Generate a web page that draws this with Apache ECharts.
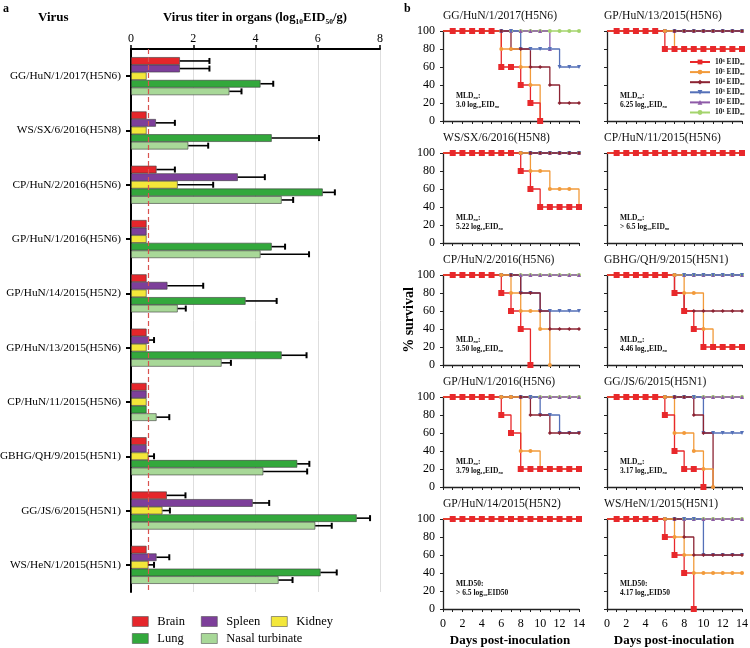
<!DOCTYPE html>
<html>
<head>
<meta charset="utf-8">
<script src="https://cdn.jsdelivr.net/npm/echarts@6/dist/echarts.min.js"></script>
<style>
  html, body { margin: 0; padding: 0; background: #fff; }
  #chart { width: 750px; height: 648px; }
</style>
</head>
<body>
<div id="chart"></div>
<script>
// ---- panel a: virus titers ----
var viruses = ['GG/HuN/1/2017(H5N6)', 'WS/SX/6/2016(H5N8)', 'CP/HuN/2/2016(H5N6)', 'GP/HuN/1/2016(H5N6)',
  'GP/HuN/14/2015(H5N2)', 'GP/HuN/13/2015(H5N6)', 'CP/HuN/11/2015(H5N6)', 'GBHG/QH/9/2015(H5N1)',
  'GG/JS/6/2015(H5N1)', 'WS/HeN/1/2015(H5N1)'];
var organs = ['Brain', 'Spleen', 'Kidney', 'Lung', 'Nasal turbinate'];
var brain      = [1.57, 0.50, 0.82, 0.50, 0.50, 0.50, 0.50, 0.50, 1.15, 0.50];
var brainErr   = [2.52, null, 1.41, null, null, null, null, null, 1.75, null];
var spleen     = [1.57, 0.80, 3.43, 0.50, 1.17, 0.58, 0.50, 0.50, 3.91, 0.82];
var spleenErr  = [2.52, 1.41, 4.30, null, 2.32, 0.74, null, null, 4.44, 1.23];
var kidney     = [0.50, 0.50, 1.50, 0.50, 0.50, 0.50, 0.50, 0.56, 1.01, 0.56];
var kidneyErr  = [null, null, 2.64, null, null, null, null, 0.74, 1.25, 0.74];
var lung       = [4.16, 4.52, 6.16, 4.52, 3.68, 4.84, 0.50, 5.34, 7.25, 6.09];
var lungErr    = [4.57, 6.04, 6.55, 4.95, 4.68, 5.64, null, 5.73, 7.68, 6.61];
var nasal      = [3.16, 1.84, 4.84, 4.16, 1.50, 2.91, 0.82, 4.25, 5.92, 4.74];
var nasalErr   = [3.55, 2.48, 5.21, 5.72, 1.76, 3.21, 1.23, 5.66, 6.45, 5.19];
var detectionLimit = 0.55;
var titerTicks = [0, 8, 2];

// ---- panel b: survival (days 0..14), doses 10^6 .. 10^1 ----
var doseNames = ['10⁶ EID₅₀', '10⁵ EID₅₀', '10⁴ EID₅₀', '10³ EID₅₀', '10² EID₅₀', '10¹ EID₅₀'];
var panelTitles = ['GG/HuN/1/2017(H5N6)', 'GP/HuN/13/2015(H5N6)', 'WS/SX/6/2016(H5N8)', 'CP/HuN/11/2015(H5N6)',
  'CP/HuN/2/2016(H5N6)', 'GBHG/QH/9/2015(H5N1)', 'GP/HuN/1/2016(H5N6)', 'GG/JS/6/2015(H5N1)',
  'GP/HuN/14/2015(H5N2)', 'WS/HeN/1/2015(H5N1)'];
var mldText = [
  ['MLD₅₀:', '3.0 log₁₀EID₅₀'], ['MLD₅₀:', '6.25 log₁₀EID₅₀'], ['MLD₅₀:', '5.22 log₁₀EID₅₀'],
  ['MLD₅₀:', '> 6.5 log₁₀EID₅₀'], ['MLD₅₀:', '3.50 log₁₀EID₅₀'], ['MLD₅₀:', '4.46 log₁₀EID₅₀'],
  ['MLD₅₀:', '3.79 log₁₀EID₅₀'], ['MLD₅₀:', '3.17 log₁₀EID₅₀'], ['MLD50:', '> 6.5 log₁₀EID50'],
  ['MLD50:', '4.17 log₁₀EID50']
];
var all100 = [100, 100, 100, 100, 100, 100, 100, 100, 100, 100, 100, 100, 100, 100, 100];

var svGG_HuN_1_2017 = [
  [100, 100, 100, 100, 100, 100, 60, 60, 40, 20, 0],
  [100, 100, 100, 100, 100, 100, 80, 80, 60, 40, 0],
  [100, 100, 100, 100, 100, 100, 100, 80, 80, 60, 60, 40, 20, 20, 20],
  [100, 100, 100, 100, 100, 100, 100, 100, 80, 80, 80, 80, 60, 60, 60],
  [100, 100, 100, 100, 100, 100, 100, 100, 100, 100, 100, 80],
  all100
];
var svGP_HuN_13_2015 = [
  [100, 100, 100, 100, 100, 100, 80, 80, 80, 80, 80, 80, 80, 80, 80],
  [100, 100, 100, 100, 100, 100, 100, 80, 80, 80, 80, 80, 80, 80, 80],
  all100, all100, all100, all100
];
var svWS_SX_6_2016 = [
  [100, 100, 100, 100, 100, 100, 100, 100, 80, 60, 40, 40, 40, 40, 40],
  [100, 100, 100, 100, 100, 100, 100, 100, 100, 80, 80, 60, 60, 60, 40],
  all100, all100, all100, all100
];
var svCP_HuN_11_2015 = [all100, all100, all100, all100, all100, all100];
var svCP_HuN_2_2016 = [
  [100, 100, 100, 100, 100, 100, 80, 60, 40, 0],
  [100, 100, 100, 100, 100, 100, 100, 80, 60, 60, 40, 0],
  [100, 100, 100, 100, 100, 100, 100, 100, 80, 80, 60, 40, 40, 40, 40],
  [100, 100, 100, 100, 100, 100, 100, 100, 80, 80, 60, 60, 60, 60, 60],
  all100, all100
];
var svGBHG_QH_9_2015 = [
  [100, 100, 100, 100, 100, 100, 100, 80, 60, 40, 20, 20, 20, 20, 20],
  [100, 100, 100, 100, 100, 100, 100, 100, 80, 80, 40, 20, 20, 20, 20],
  [100, 100, 100, 100, 100, 100, 100, 80, 60, 60, 60, 60, 60, 60, 60],
  all100, all100, all100
];
var svGP_HuN_1_2016 = [
  [100, 100, 100, 100, 100, 100, 80, 60, 20, 20, 20, 20, 20, 20, 20],
  [100, 100, 100, 100, 100, 100, 100, 100, 40, 40, 20, 20, 20, 20, 20],
  [100, 100, 100, 100, 100, 100, 100, 100, 100, 80, 80, 60, 60, 60, 60],
  [100, 100, 100, 100, 100, 100, 100, 100, 100, 100, 80, 80, 60, 60, 60],
  all100, all100
];
var svGG_JS_6_2015 = [
  [100, 100, 100, 100, 100, 100, 80, 40, 20, 20, 0],
  [100, 100, 100, 100, 100, 100, 100, 60, 60, 40, 20, 0],
  [100, 100, 100, 100, 100, 100, 100, 100, 100, 80, 60, 0],
  [100, 100, 100, 100, 100, 100, 100, 100, 100, 100, 60, 60, 60, 60, 60],
  all100, all100
];
var svGP_HuN_14_2015 = [all100, all100, all100, all100, all100, all100];
var svWS_HeN_1_2015 = [
  [100, 100, 100, 100, 100, 100, 80, 60, 40, 0],
  [100, 100, 100, 100, 100, 100, 100, 80, 60, 40, 40, 40, 40, 40, 40],
  [100, 100, 100, 100, 100, 100, 100, 100, 80, 60, 60, 60, 60, 60, 60],
  [100, 100, 100, 100, 100, 100, 100, 100, 100, 100, 60, 60, 60, 60, 60],
  all100, all100
];
var survival = [svGG_HuN_1_2017, svGP_HuN_13_2015, svWS_SX_6_2016, svCP_HuN_11_2015, svCP_HuN_2_2016,
  svGBHG_QH_9_2015, svGP_HuN_1_2016, svGG_JS_6_2015, svGP_HuN_14_2015, svWS_HeN_1_2015];

// ---- styling ----
var SERIF = '"Liberation Serif", "Times New Roman", serif';
var organColors = ['#e5262b', '#7d3f9a', '#f3e73a', '#33a83c', '#a8d898'];
var doseColors = ['#e8282b', '#f29a3a', '#8c2433', '#5470b8', '#8e5aa8', '#a4d46c'];
var doseSymbols = ['rect', 'circle', 'diamond', 'triangle', 'triangle', 'circle'];
var doseRotate = [0, 0, 0, 180, 0, 0];
var doseSizes = [6, 4, 4, 4, 4, 4];
var BAR_W = 7.6;

var chart = echarts.init(document.getElementById('chart'));

var grids = [{ left: 131, top: 49, width: 249, height: 543, containLabel: false, outerBoundsMode: 'none' }];
var xAxes = [{
  gridIndex: 0, type: 'value', position: 'top', min: titerTicks[0], max: titerTicks[1], interval: titerTicks[2],
  axisLine: { show: true, lineStyle: { color: '#000', width: 2 } },
  axisTick: { show: true, length: 4, lineStyle: { color: '#000', width: 1.5 } },
  axisLabel: { color: '#000', fontSize: 12, fontFamily: SERIF, margin: 4 },
  splitLine: { show: true, lineStyle: { color: '#dedede' } }
}];
var yAxes = [{
  gridIndex: 0, type: 'category', inverse: true, data: viruses,
  axisLine: { show: true, lineStyle: { color: '#000', width: 2 } },
  axisTick: { show: true, alignWithLabel: true, length: 5, lineStyle: { color: '#000', width: 2 } },
  axisLabel: { color: '#000', fontSize: 11.3, fontFamily: SERIF, margin: 10 }
}];

var organValues = [brain, spleen, kidney, lung, nasal];
var organErrs = [brainErr, spleenErr, kidneyErr, lungErr, nasalErr];
var series = [];
organs.forEach(function (name, o) {
  var s = {
    type: 'bar', name: name, xAxisIndex: 0, yAxisIndex: 0,
    data: organValues[o], barWidth: BAR_W, barGap: '0%',
    itemStyle: { color: organColors[o], borderColor: '#3a3a3a', borderWidth: 0.6 }
  };
  if (o === 0) {
    s.markLine = {
      silent: true, symbol: 'none', label: { show: false },
      lineStyle: { color: '#d9534f', type: [5, 3], width: 1.2 },
      data: [{ xAxis: detectionLimit }]
    };
  }
  series.push(s);
});
var errData = [];
organErrs.forEach(function (arr, o) {
  arr.forEach(function (e, c) {
    if (e !== null) errData.push([c, o, organValues[o][c], e]);
  });
});
series.push({
  type: 'custom', xAxisIndex: 0, yAxisIndex: 0, data: errData, z: 5,
  encode: { x: [2, 3], y: 0 },
  renderItem: function (params, api) {
    var c = api.value(0), o = api.value(1);
    var a = api.coord([api.value(2), c]);
    var b = api.coord([api.value(3), c]);
    var y = a[1] + (o - 2) * BAR_W;
    return {
      type: 'group', children: [
        { type: 'line', shape: { x1: a[0], y1: y, x2: b[0], y2: y }, style: { stroke: '#000', lineWidth: 1.6 } },
        { type: 'line', shape: { x1: b[0], y1: y - 3, x2: b[0], y2: y + 3 }, style: { stroke: '#000', lineWidth: 2 } }
      ]
    };
  }
});

// survival panels
var colLeft = [443, 607], colWidth = [136, 135];
var rowTop = [31, 153, 275, 397, 519], panelH = 90;
var graphics = [];
survival.forEach(function (panel, p) {
  var col = p % 2, row = Math.floor(p / 2), gi = p + 1;
  grids.push({ left: colLeft[col], top: rowTop[row], width: colWidth[col], height: panelH,
    containLabel: false, outerBoundsMode: 'none' });
  xAxes.push({
    gridIndex: gi, type: 'value', min: 0, max: 14, interval: 2,
    axisLine: { show: true, onZero: false, lineStyle: { color: '#222', width: 1.3 } },
    axisTick: { show: true, length: 3, lineStyle: { color: '#222' } },
    minorTick: { show: true, splitNumber: 2, length: 3, lineStyle: { color: '#222' } },
    axisLabel: { show: row === 4, color: '#000', fontSize: 12, fontFamily: SERIF, margin: 9 },
    splitLine: { show: false }
  });
  yAxes.push({
    gridIndex: gi, type: 'value', min: 0, max: 100, interval: 20,
    axisLine: { show: true, lineStyle: { color: '#222', width: 1.3 } },
    axisTick: { show: true, length: 3, lineStyle: { color: '#222' } },
    axisLabel: { show: col === 0, color: '#000', fontSize: 12, fontFamily: SERIF, margin: 8 },
    splitLine: { show: false }
  });
  for (var d = 5; d >= 0; d--) {
    var pts = panel[d].map(function (v, day) {
      return day === 0 ? { value: [day, v], symbol: 'none' } : [day, v];
    });
    series.push({
      type: 'line', name: doseNames[d], xAxisIndex: gi, yAxisIndex: gi, step: 'end',
      data: pts, symbol: doseSymbols[d], symbolSize: doseSizes[d], symbolRotate: doseRotate[d],
      color: doseColors[d], lineStyle: { width: 1.3, color: doseColors[d] },
      itemStyle: { color: doseColors[d] }, clip: false, animation: false
    });
  }
  graphics.push({
    type: 'text', left: colLeft[col] - (col ? 3 : 0), top: rowTop[row] - 21,
    style: { text: panelTitles[p], font: '11.6px ' + SERIF, fill: '#111' }
  });
  graphics.push({
    type: 'text', left: colLeft[col] + 13, top: rowTop[row] + 61,
    style: { text: mldText[p][0] + '\n' + mldText[p][1], font: 'bold 7.5px ' + SERIF, fill: '#111', lineHeight: 9 }
  });
});

graphics.push(
  { type: 'text', left: 3, top: 3, style: { text: 'a', font: 'bold 12px ' + SERIF, fill: '#000' } },
  { type: 'text', left: 404, top: 3, style: { text: 'b', font: 'bold 12px ' + SERIF, fill: '#000' } },
  { type: 'text', left: 38, top: 11, style: { text: 'Virus', font: 'bold 13px ' + SERIF, fill: '#000' } },
  { type: 'text', left: 163, top: 11, style: { text: 'Virus titer in organs (log₁₀EID₅₀/g)', font: 'bold 12.6px ' + SERIF, fill: '#000' } },
  { type: 'text', x: 409, y: 320, rotation: Math.PI / 2,
    style: { text: '% survival', font: 'bold 14px ' + SERIF, fill: '#000', align: 'center', verticalAlign: 'middle' } },
  { type: 'text', x: 510, y: 641, style: { text: 'Days post-inoculation', font: 'bold 13px ' + SERIF, fill: '#000', align: 'center', verticalAlign: 'middle' } },
  { type: 'text', x: 674, y: 641, style: { text: 'Days post-inoculation', font: 'bold 13px ' + SERIF, fill: '#000', align: 'center', verticalAlign: 'middle' } }
);

// legends
var legendPos = [[132, 615], [201, 615], [271, 615], [132, 632], [201, 632]];
var legends = organs.map(function (name, o) {
  return {
    data: [name], left: legendPos[o][0], top: legendPos[o][1], itemWidth: 16, itemHeight: 10, itemGap: 0,
    icon: 'rect', textStyle: { fontSize: 12.5, fontFamily: SERIF, color: '#000', padding: [0, 0, 0, 4] },
    selectedMode: false, itemStyle: { borderColor: '#555', borderWidth: 0.6 }, padding: 0
  };
});
legends.push({
  data: doseNames, orient: 'vertical', left: 684, top: 53, itemWidth: 20, itemHeight: 6, itemGap: 2.1,
  textStyle: { fontSize: 7.5, fontWeight: 'bold', fontFamily: SERIF, color: '#111' }, selectedMode: false
});

chart.setOption({
  animation: false,
  backgroundColor: '#fff',
  grid: grids,
  xAxis: xAxes,
  yAxis: yAxes,
  legend: legends,
  series: series,
  graphic: graphics
});
window.addEventListener('resize', chart.resize);
</script>
</body>
</html>
